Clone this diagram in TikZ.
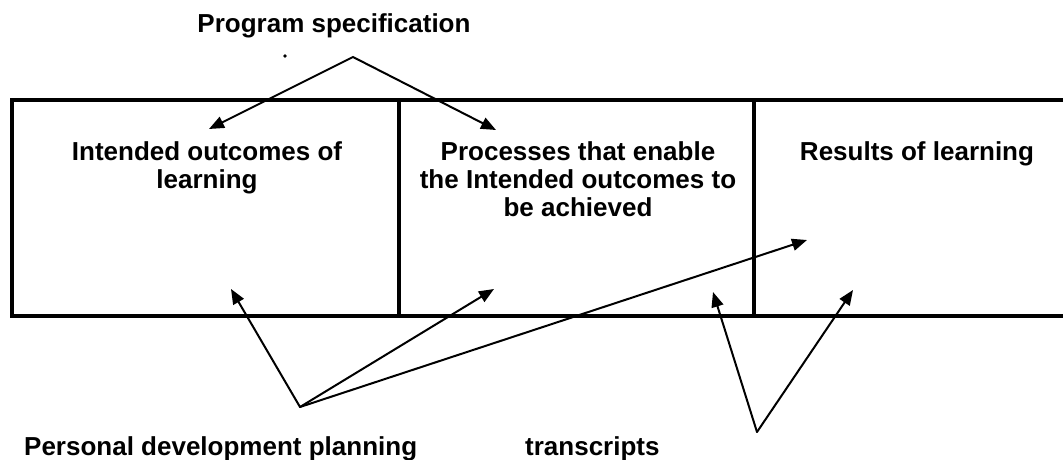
\documentclass[tikz,border=0pt]{standalone}
\usepackage{fontspec}
\setmainfont{Liberation Sans}
\usetikzlibrary{arrows.meta}
\begin{document}
\begin{tikzpicture}[x=1pt,y=-1pt,
  lbl/.style={font=\fontsize{26}{28}\selectfont\bfseries, inner sep=0pt, align=center, anchor=base},
  boxline/.style={line width=4.5pt},
  arr/.style={line width=2pt, line cap=round, -{Triangle[length=15pt,width=12pt]}},
  darr/.style={line width=2pt, {Triangle[length=15pt,width=12pt]}-{Triangle[length=15pt,width=12pt]}}]
\useasboundingbox[fill=white] (0,0) rectangle (1063,460);
% texts (base anchor = baseline of the last line)
\node[lbl] (spec) at (334,33) {Program specification};
\node[lbl] (t1) at (207,188) {Intended outcomes of\\learning};
\node[lbl] (t2) at (578,216) {Processes that enable\\the Intended outcomes to\\be achieved};
\node[lbl] (t3) at (917,160) {Results of learning};
\node[lbl, anchor=base west] (pdp) at (24,455) {Personal development planning};
\node[lbl, anchor=base west] (tr) at (525,455) {transcripts};
% box
\draw[boxline] (1063,100) -- (12,100) -- (12,316) -- (1063,316);
\draw[boxline] (399,100) -- (399,316);
\draw[boxline] (754,100) -- (754,316);
% dot
\fill (285,56) circle (1.8);
% program specification arrows
\coordinate (apex) at (353,57);
\coordinate (s1) at (209,129);
\coordinate (s2) at (496,130);
\draw[darr] (s1) -- (apex) -- (s2);
% personal development planning arrows
\coordinate (po) at (300,407);
\coordinate (p1) at (231,289);
\coordinate (p2) at (494,289);
\coordinate (p3) at (807,240);
\draw[arr] (po) -- (p1);
\draw[arr] (po) -- (p2);
\draw[arr] (po) -- (p3);
% transcripts arrows
\coordinate (to) at (757,432);
\coordinate (r1) at (713,292);
\coordinate (r2) at (853,290);
\draw[arr] (to) -- (r1);
\draw[arr] (to) -- (r2);
\end{tikzpicture}
\end{document}
